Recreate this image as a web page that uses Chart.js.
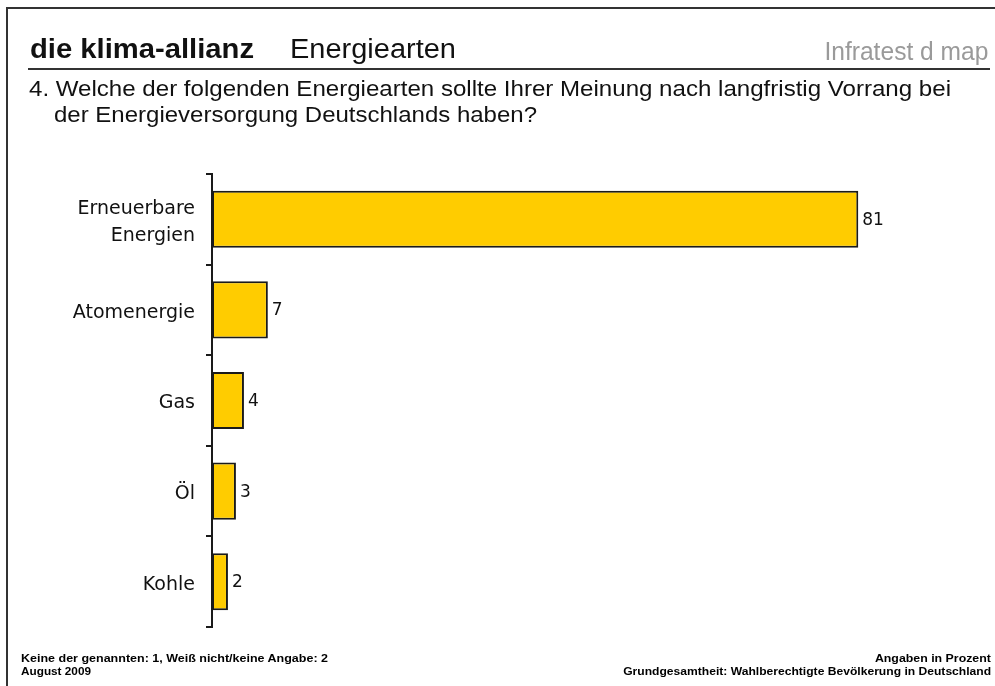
<!DOCTYPE html>
<html>
<head>
<meta charset="utf-8">
<script src="https://cdn.jsdelivr.net/npm/chart.js@4.4.1/dist/chart.umd.min.js"></script>
<style>
  html, body { margin: 0; padding: 0; background: #fff; }
  #wrap { position: relative; width: 995px; height: 686px; overflow: hidden; background: #fff; }
  #c { position: absolute; left: 0; top: 0; }
  .ln { position: absolute; background: #333; }
  .t { position: absolute; white-space: nowrap; font-family: "Liberation Sans", Arial, sans-serif; color: #111; line-height: 1; }
  .t.l { transform-origin: left center; }
  .t.r { transform-origin: right center; }
</style>
</head>
<body>
<div id="wrap">
  <canvas id="c" width="995" height="686"></canvas>
  <div class="ln" style="left:6px;top:7px;width:989px;height:2px;"></div>
  <div class="ln" style="left:6px;top:7px;width:2px;height:679px;"></div>
  <div class="ln" style="left:28px;top:68px;width:962px;height:2px;"></div>

  <div class="t l" data-w="224" style="left:30px;top:36px;font-size:27px;font-weight:bold;">die klima-allianz</div>
  <div class="t l" data-w="166" style="left:290px;top:36px;font-size:27px;">Energiearten</div>
  <div class="t r" data-w="164" style="right:7px;top:38px;font-size:26px;color:#9a9a9a;">Infratest d map</div>

  <div class="t l" data-w="922" style="left:29px;top:78px;font-size:22px;">4. Welche der folgenden Energiearten sollte Ihrer Meinung nach langfristig Vorrang bei</div>
  <div class="t l" data-w="483" style="left:54px;top:104px;font-size:22px;">der Energieversorgung Deutschlands haben?</div>

  <div class="t l" data-w="307" style="left:21px;top:654px;font-size:10px;font-weight:bold;color:#000;">Keine der genannten: 1, Weiß nicht/keine Angabe: 2</div>
  <div class="t l" data-w="70" style="left:21px;top:667px;font-size:10px;font-weight:bold;color:#000;">August 2009</div>
  <div class="t r" data-w="116" style="right:4px;top:654px;font-size:10px;font-weight:bold;color:#000;">Angaben in Prozent</div>
  <div class="t r" data-w="368" style="right:4px;top:667px;font-size:10px;font-weight:bold;color:#000;">Grundgesamtheit: Wahlberechtigte Bevölkerung in Deutschland</div>
</div>
<script>
// ---- data ----
const categories = [["Erneuerbare", "Energien"], "Atomenergie", "Gas", "Öl", "Kohle"];
const values = [81, 7, 4, 3, 2];
const xMax = 95;

// fit header/footer texts to their measured widths
document.querySelectorAll('.t[data-w]').forEach(el => {
  const w = el.getBoundingClientRect().width;
  const target = parseFloat(el.dataset.w);
  if (w > 0) el.style.transform = 'scaleX(' + (target / w) + ')';
});

const valueLabels = {
  id: 'valueLabels',
  afterDatasetsDraw(chart) {
    const ctx = chart.ctx;
    const meta = chart.getDatasetMeta(0);
    ctx.save();
    ctx.font = '17px "DejaVu Sans"';
    ctx.fillStyle = '#111';
    ctx.textAlign = 'left';
    ctx.textBaseline = 'middle';
    meta.data.forEach((bar, i) => {
      ctx.fillText(String(values[i]), bar.x + 4, bar.y + 1);
    });
    ctx.restore();
  }
};

Chart.defaults.font.family = '"DejaVu Sans"';
new Chart(document.getElementById('c'), {
  type: 'bar',
  data: {
    labels: categories,
    datasets: [{
      data: values,
      backgroundColor: '#FFCC00',
      borderColor: '#1a1a1a',
      borderWidth: 2,
      borderSkipped: false,
      barPercentage: 0.63,
      categoryPercentage: 1
    }]
  },
  options: {
    indexAxis: 'y',
    responsive: false,
    animation: false,
    layout: { padding: { left: 0, top: 174, bottom: 59, right: 25 } },
    plugins: { legend: { display: false }, tooltip: { enabled: false }, title: { display: false } },
    scales: {
      x: { display: false, min: 0, max: xMax },
      y: {
        offset: true,
        afterFit(scale) { scale.width = 212; },
        grid: { offset: true, drawOnChartArea: false, drawTicks: true, tickLength: 6, color: '#1a1a1a', lineWidth: 2 },
        border: { display: true, color: '#1a1a1a', width: 2 },
        ticks: { color: '#111', padding: 11, labelOffset: 3, font: { size: 19, lineHeight: 1.4 } }
      }
    }
  },
  plugins: [valueLabels]
});
</script>
</body>
</html>
